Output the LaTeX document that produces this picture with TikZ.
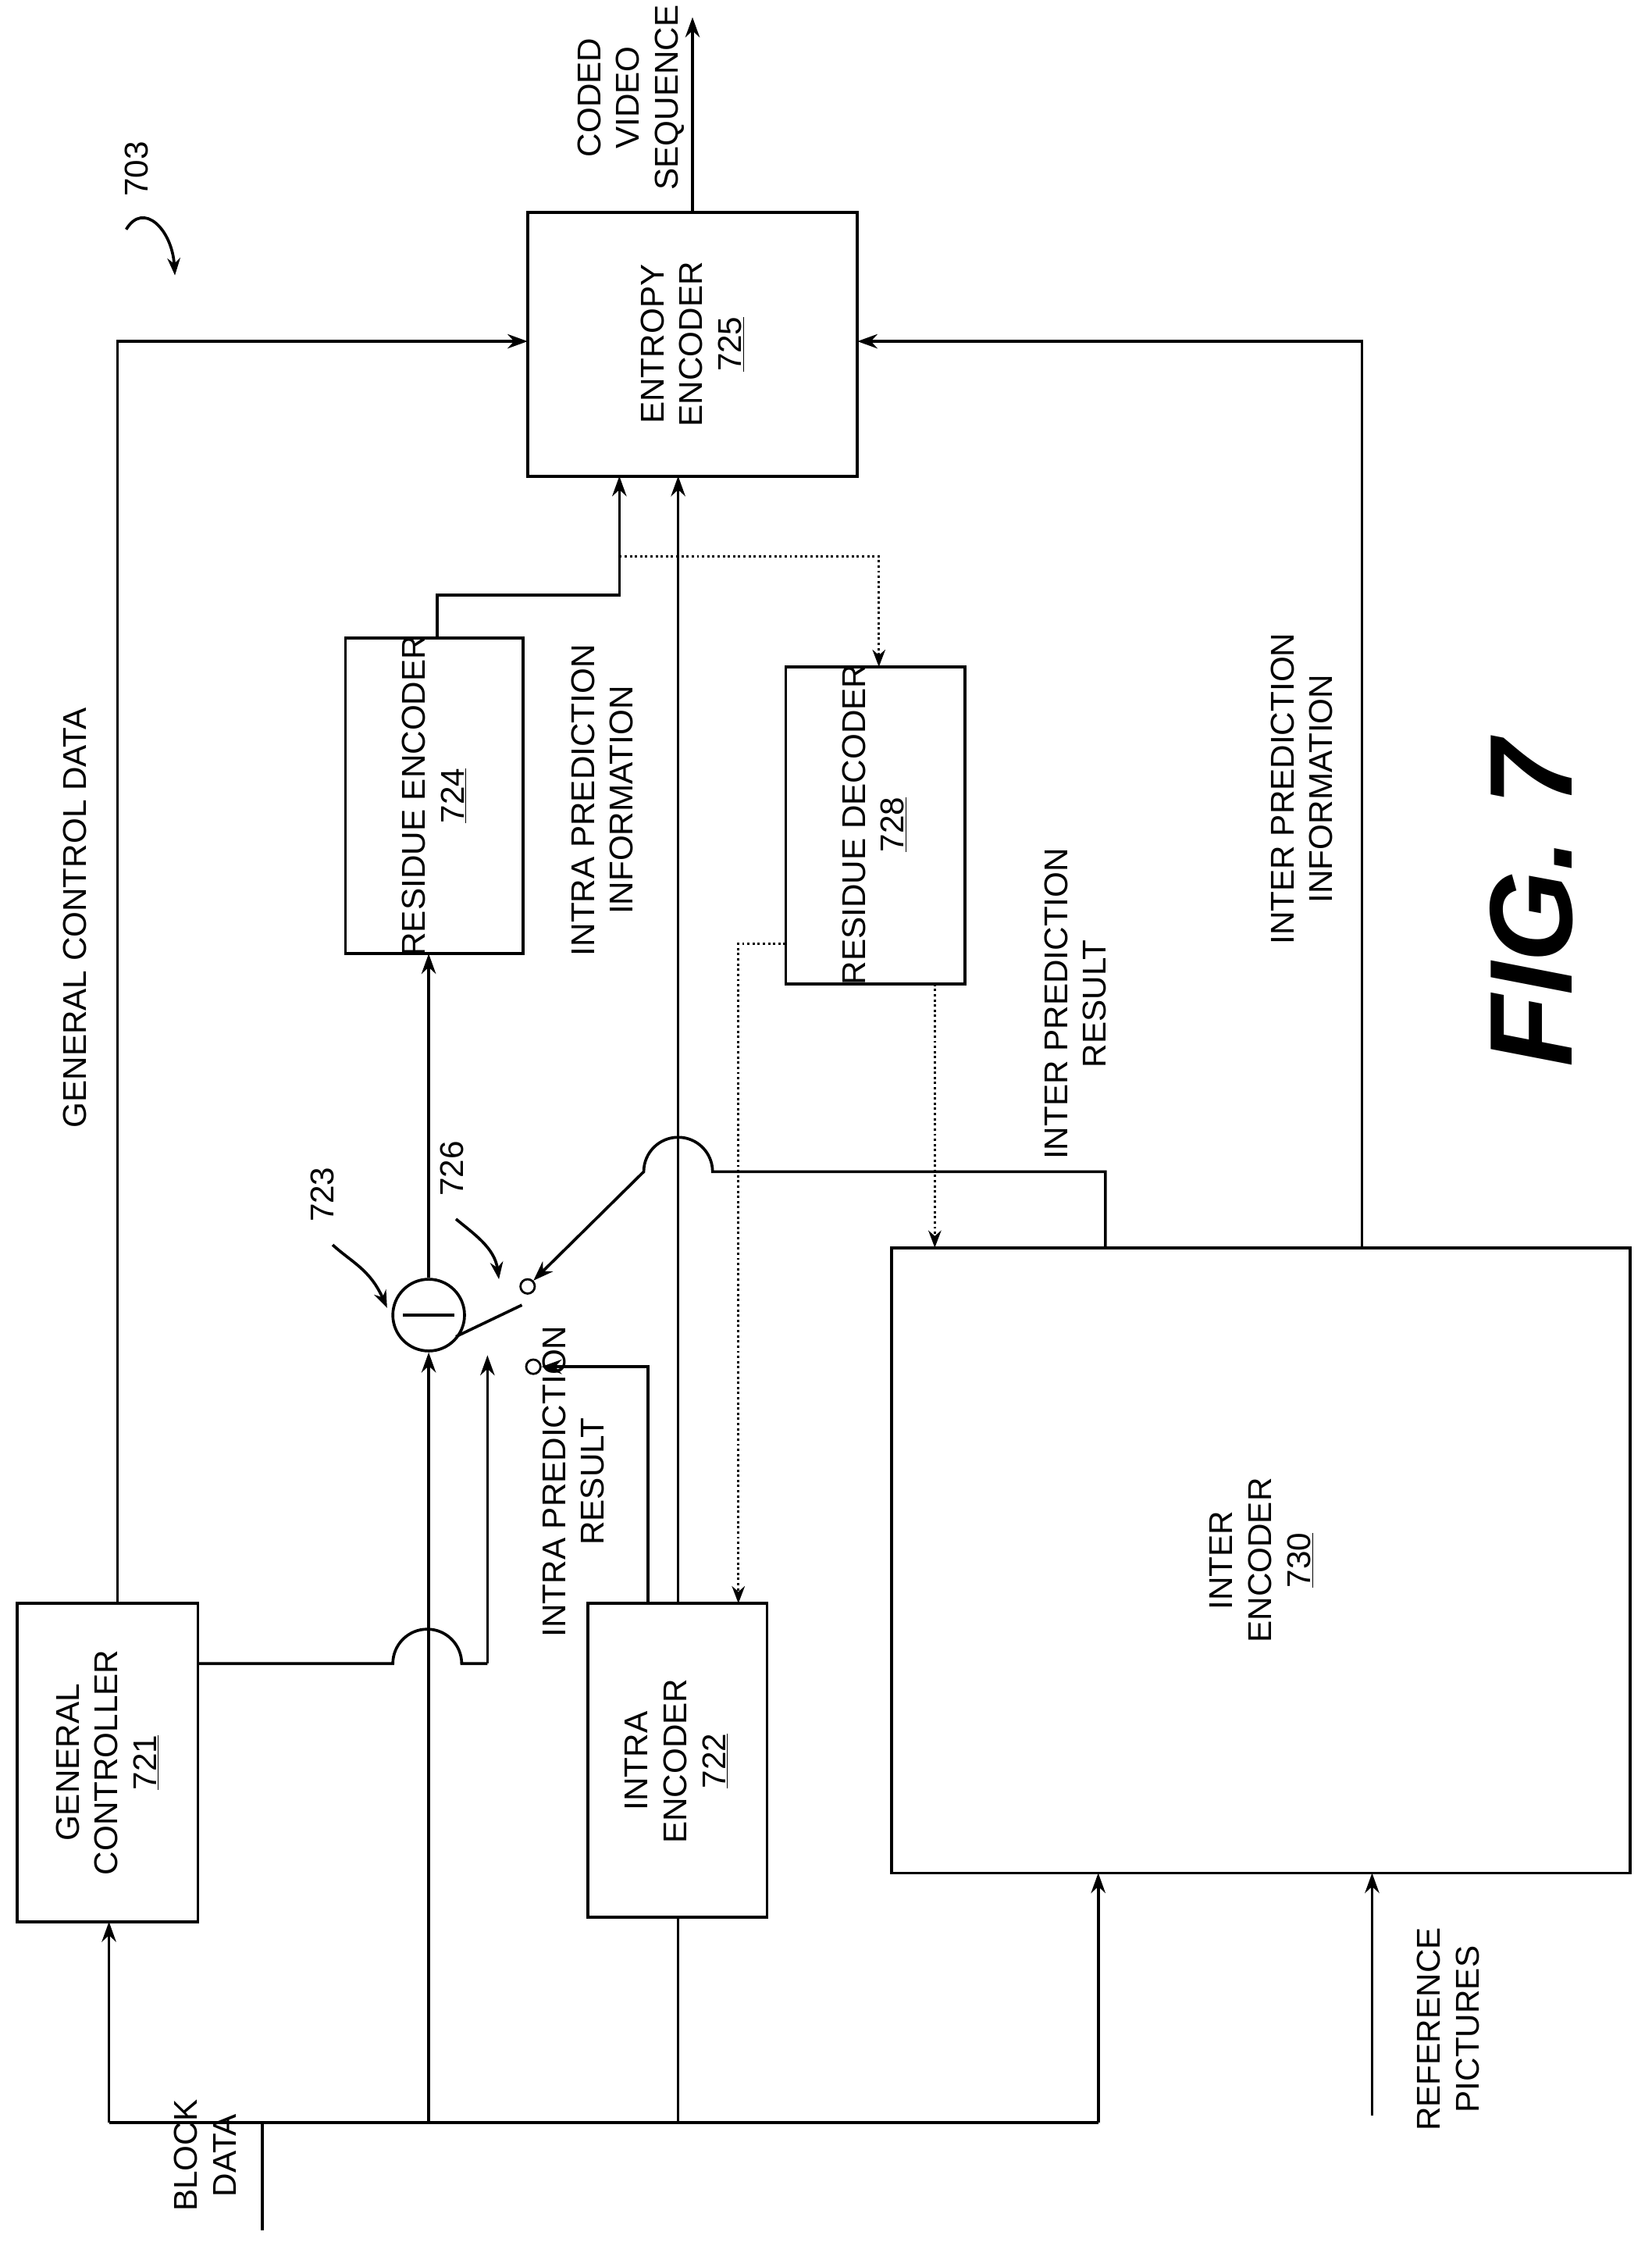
\documentclass[tikz,border=0pt]{standalone}
\usepackage{fontspec}
\setmainfont{Liberation Sans}
\usetikzlibrary{arrows.meta}
\begin{document}
\begin{tikzpicture}[x=1pt,y=-1pt,
  ln/.style={line width=2pt},
  ar/.style={ln,-{Stealth[length=14pt,width=10pt]}},
  dar/.style={line width=1.6pt,dotted,-{Stealth[length=12pt,width=9pt]}},
  box/.style={draw,line width=2pt},
  lab/.style={rotate=90,align=center,font=\fontsize{23}{27}\selectfont},
  sm/.style={draw,line width=1.5pt,circle,inner sep=0pt,minimum size=10pt}]
\useasboundingbox (0,0) rectangle (1152,1571);
% boxes
\draw[box] (368,148) rectangle (598,332);
\node[lab] (ent) at (483,240) {ENTROPY\\ENCODER\\\underline{725}};
\draw[box] (12,1118) rectangle (138,1340);
\node[lab] (gc) at (75,1229) {GENERAL\\CONTROLLER\\\underline{721}};
\draw[box] (241,445) rectangle (365,665);
\node[lab] (re) at (303,555) {RESIDUE ENCODER\\\underline{724}};
\draw[box] (548,465) rectangle (673,686);
\node[lab] (rd) at (610,575) {RESIDUE DECODER\\\underline{728}};
\draw[box] (410,1118) rectangle (535,1337);
\node[lab] (ie) at (472,1228) {INTRA\\ENCODER\\\underline{722}};
\draw[box] (622,870) rectangle (1137,1306);
\node[lab] (inter) at (880,1088) {INTER\\ENCODER\\\underline{730}};
% labels
\node[lab] (cvs) at (440,68) {CODED\\VIDEO\\SEQUENCE};
\node[lab] (gcd) at (52,640) {GENERAL CONTROL DATA};
\node[lab] (ipi) at (420,558) {INTRA PREDICTION\\INFORMATION};
\node[lab] (epi) at (908,550) {INTER PREDICTION\\INFORMATION};
\node[lab] (epr) at (750,700) {INTER PREDICTION\\RESULT};
\node[lab] (ipr) at (400,1033) {INTRA PREDICTION\\RESULT};
\node[lab] (bd) at (143,1503) {BLOCK\\DATA};
\node[lab] (rp) at (1010,1415) {REFERENCE\\PICTURES};
\node[rotate=90,font=\bfseries\itshape\fontsize{82}{90}\selectfont] (fig) at (1068,630) {FIG. 7};
\node[rotate=90,font=\fontsize{23}{27}\selectfont] (n703) at (95,118) {703};
\draw[ln,-{Stealth[length=12pt,width=9pt]}] (88,160) .. controls (100,140) and (120,160) .. (122,192);
\node[rotate=90,font=\fontsize{23}{27}\selectfont] (n723) at (225,833) {723};
\draw[ln,-{Stealth[length=12pt,width=9pt]}] (232,868) .. controls (245,880) and (258,885) .. (270,912);
\node[rotate=90,font=\fontsize{23}{27}\selectfont] (n726) at (315,815) {726};
\draw[ln,-{Stealth[length=12pt,width=9pt]}] (318,850) .. controls (330,860) and (345,870) .. (348,892);
% output
\draw[ar] (483,148) -- (483,12);
% general control data
\draw[ar] (82,1118) -- (82,238) -- (368,238);
\draw[ar] (950,870) -- (950,238) -- (598,238);
% residue encoder to entropy
\draw[ar] (305,445) -- (305,415) -- (432,415) -- (432,332);
\draw[ar] (473,1118) -- (473,332);
% dotted
\draw[dar] (432,388) -- (613,388) -- (613,465);
\draw[dar] (548,658) -- (515,658) -- (515,1118);
\draw[dar] (652,686) -- (652,870);
% subtractor
\node[draw,line width=2pt,circle,minimum size=50pt,inner sep=0pt] (sub) at (299,917) {};
\draw[ln] (281,917) -- (317,917);
\draw[ar] (sub.north) -- (299,665);
\draw[ar] (299,1480) -- (sub.south);
% switch
\node[sm] (c1) at (368,897) {};
\node[sm] (c2) at (372,953) {};
\draw[ln] (318,932) -- (364,910);
\draw[ln] (138,1160) -- (274,1160) arc[start angle=180,end angle=360,radius=24] -- (340,1160);
\draw[ar] (340,1160) -- (340,945);
\draw[ar] (452,1118) -- (452,953) -- (c2.east);
\draw[ar] (771,870) -- (771,817) -- (497,817) arc[start angle=0,end angle=-180,radius=24] -- (c1.north east);
% bus
\draw[ln] (183,1555) -- (183,1480);
\draw[ln] (76,1480) -- (766,1480);
\draw[ar] (76,1480) -- (76,1340);
\draw[ln] (473,1480) -- (473,1337);
\draw[ar] (766,1480) -- (766,1306);
\draw[ar] (957,1475) -- (957,1306);
\end{tikzpicture}
\end{document}
